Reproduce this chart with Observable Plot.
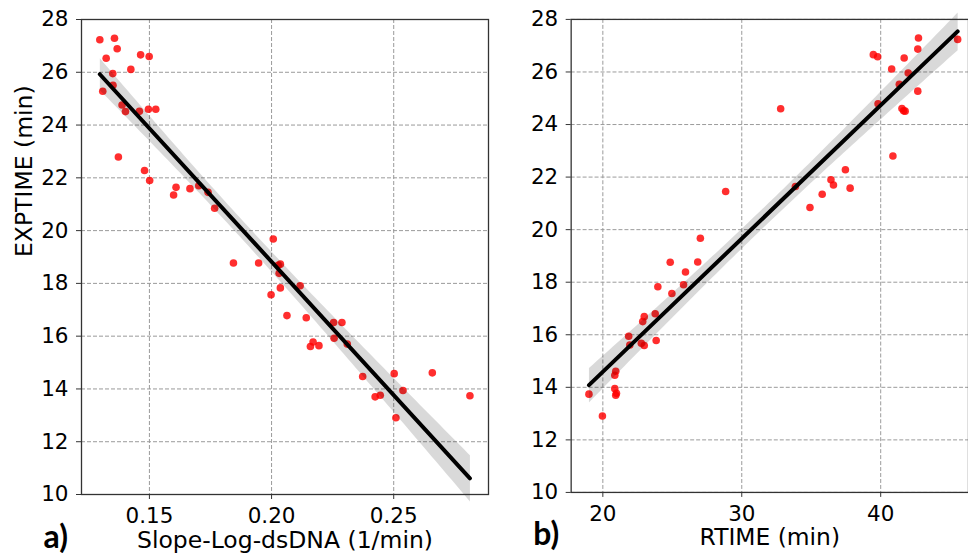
<!DOCTYPE html>
<html>
<head>
<meta charset="utf-8">
<script src="https://cdn.jsdelivr.net/npm/d3@7"></script>
<script src="https://cdn.jsdelivr.net/npm/@observablehq/plot@0.6"></script>
<style>
  html, body { margin: 0; padding: 0; background: #fff; }
  #wrap { position: relative; width: 968px; height: 553px; overflow: hidden; background: #fff; }
  #pa { position: absolute; left: 0; top: 0; }
  #pb { position: absolute; left: 490px; top: 0; }
</style>
</head>
<body>
<div id="wrap"><div id="pa"></div><div id="pb"></div></div>
<script>
// Panel a) Slope-Log-dsDNA vs EXPTIME
const slopeA = [0.1297,0.1357,0.1368,0.1323,0.1464,0.1499,0.1424,0.1350,0.1351,0.1309,
  0.1388,0.1402,0.1459,0.1496,0.1526,0.1373,0.1480,0.1501,0.1609,0.1599,
  0.1666,0.1702,0.1740,0.1767,0.2007,0.1844,0.1947,0.2036,0.2027,0.2031,
  0.2117,0.2036,0.1998,0.2063,0.2142,0.2254,0.2288,0.2256,0.2170,0.2159,
  0.2194,0.2310,0.2373,0.2424,0.2445,0.2502,0.2538,0.2509,0.2658,0.2812];
const exptimeA = [27.23,27.29,26.89,26.53,26.66,26.60,26.11,25.95,25.51,25.28,
  24.76,24.51,24.52,24.60,24.60,22.79,22.28,21.90,21.64,21.35,
  21.59,21.70,21.45,20.85,19.68,18.77,18.77,18.73,18.69,18.38,
  17.91,17.83,17.57,16.78,16.70,16.52,16.52,15.92,15.78,15.61,
  15.64,15.70,14.47,13.70,13.76,14.58,13.94,12.91,14.61,13.74];

// Panel b) RTIME vs EXPTIME
const rtimeB = [45.54,42.72,42.67,41.69,39.47,39.78,40.79,41.98,41.34,42.67,
  39.81,41.53,41.65,41.76,32.80,40.88,37.46,36.42,33.86,35.79,
  37.80,36.60,28.84,34.91,27.02,24.85,26.83,25.95,25.81,23.96,
  24.97,23.77,22.98,22.87,21.86,21.94,22.77,22.98,23.84,20.93,
  20.86,20.86,20.98,20.93,19.00,19.97];
const exptimeB = [27.24,27.29,26.87,26.53,26.66,26.58,26.11,25.96,25.53,25.27,
  24.79,24.61,24.52,24.51,24.60,22.80,22.28,21.90,21.64,21.35,
  21.58,21.70,21.45,20.84,19.67,18.76,18.77,18.39,17.90,17.83,
  17.57,16.80,16.69,16.50,15.94,15.61,15.68,15.59,15.78,14.61,
  14.46,13.95,13.77,13.70,13.74,12.91];

const yTicks = [10,12,14,16,18,20,22,24,26,28];
const xTicksA = [0.15,0.20,0.25];
const xTicksB = [20,30,40];

const dataA = slopeA.map((x,i)=>({x, y: exptimeA[i]}));
const dataB = rtimeB.map((x,i)=>({x, y: exptimeB[i]}));

const baseStyle = {fontFamily: "DejaVu Sans", fontSize: "21.5px", background: "white", color: "#000", overflow: "visible"};
const gridOpts = {stroke: "#9a9a9a", strokeOpacity: 1, strokeWidth: 1, strokeDasharray: "4,2"};

function panel({data, xDomain, xTicks, xFmt, xLabel, yLabel, tag, width, marginRight}) {
  const marks = [
    Plot.gridX(xTicks, gridOpts),
    Plot.gridY(yTicks, gridOpts),
    Plot.dot(data, {x: "x", y: "y", r: 3.8, fill: "#ff0000", fillOpacity: 0.82, stroke: "none"}),
    Plot.linearRegressionY(data, {x: "x", y: "y", stroke: "black", strokeWidth: 4, fill: "black", fillOpacity: 0.15, ci: 0.95}),
    Plot.frame({stroke: "#333", strokeWidth: 1.3}),
    Plot.axisX(xTicks, {tickFormat: xFmt, tickSize: 5, tickPadding: 8, stroke: "#333", label: null}),
    Plot.axisY(yTicks, {tickSize: 5, tickPadding: 8, stroke: "#333", label: null}),
    Plot.text([xLabel], {text: d => d, frameAnchor: "bottom", lineAnchor: "bottom", dy: 53,
      fontFamily: "DejaVu Sans", fontSize: 23.5, fill: "#000"}),
    Plot.text([tag], {text: d => d, frameAnchor: "bottom-left", textAnchor: "start", lineAnchor: "bottom",
      dx: -38, dy: 53, fontFamily: "Lato", fontWeight: "bold", fontSize: 32, fill: "#000"})
  ];
  if (yLabel) marks.push(Plot.text([yLabel], {text: d => d, frameAnchor: "left", rotate: -90, lineAnchor: "top",
      dx: -66, fontFamily: "DejaVu Sans", fontSize: 23.5, fill: "#000"}));
  return Plot.plot({
    width, height: 553,
    marginLeft: 81, marginRight, marginTop: 19, marginBottom: 59,
    style: baseStyle,
    x: {domain: xDomain},
    y: {domain: [10, 28]},
    marks
  });
}

document.getElementById("pa").appendChild(panel({
  data: dataA, xDomain: [0.1222, 0.2888], xTicks: xTicksA, xFmt: d => d.toFixed(2),
  xLabel: "Slope-Log-dsDNA (1/min)", yLabel: "EXPTIME (min)", tag: "a)", width: 490, marginRight: 2
}));
document.getElementById("pb").appendChild(panel({
  data: dataB, xDomain: [17.72, 46.32], xTicks: xTicksB, xFmt: d => String(d),
  xLabel: "RTIME (min)", yLabel: null, tag: "b)", width: 480, marginRight: 0
}));
</script>
</body>
</html>
